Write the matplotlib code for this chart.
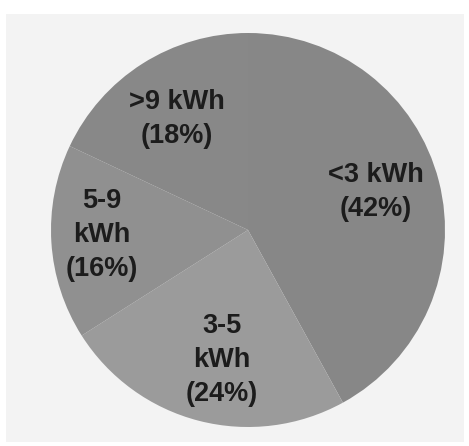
import matplotlib.pyplot as plt
from matplotlib.patches import Rectangle

plt.rcParams['font.family'] = ['Liberation Sans', 'DejaVu Sans']

# energy use bands and their shares
bands = ['<3 kWh', '3-5\nkWh', '5-9\nkWh', '>9 kWh']
shares = [42, 24, 16, 18]
colors = ['#878787', '#9b9b9b', '#909090', '#888888']

# where each label sits, in pixel coordinates (y from top)
label_pos = [(376, 192), (222, 360), (102, 235), (177, 119)]

W, H = 469, 446
fig = plt.figure(figsize=(W / 100, H / 100), dpi=100, facecolor='white')
ax = fig.add_axes([0, 0, 1, 1])

# light grey panel behind the pie
ax.add_patch(Rectangle((6, 4), 458, 428, facecolor='#f3f3f3', edgecolor='none', zorder=0))

ax.pie(shares, colors=colors, startangle=90, counterclock=False,
       center=(248, H - 230), radius=197, frame=True,
       wedgeprops={'linewidth': 0})
ax.set_xlim(0, W)
ax.set_ylim(0, H)
ax.set_aspect('equal')
ax.axis('off')

for band, share, (x, y) in zip(bands, shares, label_pos):
    ax.text(x, H - y, f'{band}\n({share}%)', ha='center', va='center',
            fontsize=19.5, fontweight='bold', color='#1c1c1c', linespacing=1.38)

fig.savefig('out.png', dpi=100, facecolor='white')
